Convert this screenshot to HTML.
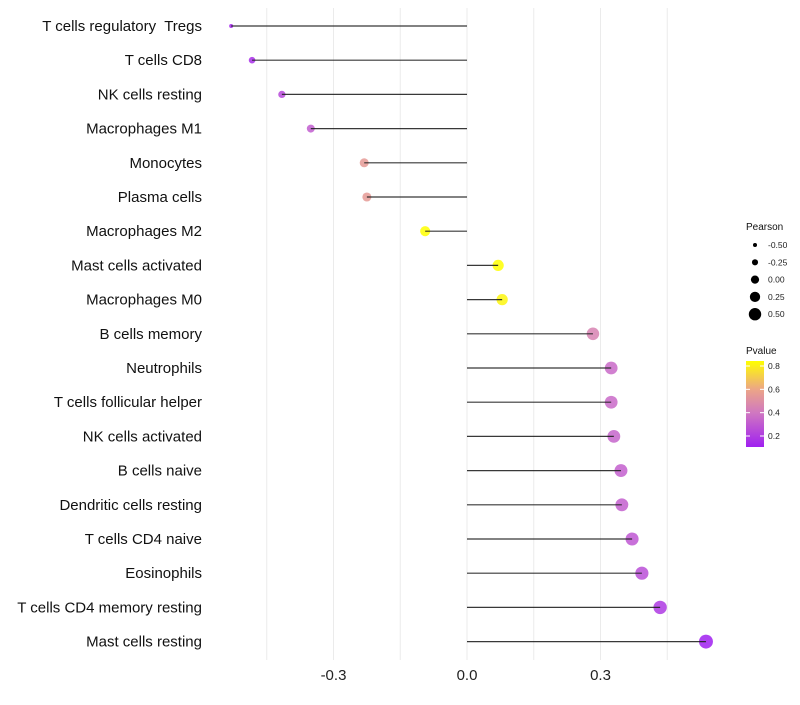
<!DOCTYPE html>
<html><head><meta charset="utf-8"><style>body{margin:0;background:#fff}svg{font-family:"Liberation Sans",sans-serif}</style></head>
<body>
<svg id="c" width="800" height="700"></svg>
<script>
const categories=["T cells regulatory  Tregs","T cells CD8","NK cells resting","Macrophages M1","Monocytes","Plasma cells","Macrophages M2","Mast cells activated","Macrophages M0","B cells memory","Neutrophils","T cells follicular helper","NK cells activated","B cells naive","Dendritic cells resting","T cells CD4 naive","Eosinophils","T cells CD4 memory resting","Mast cells resting"];
const pearson=[-0.530,-0.483,-0.416,-0.351,-0.231,-0.225,-0.094,0.070,0.079,0.283,0.324,0.324,0.330,0.346,0.348,0.371,0.393,0.434,0.537];
const pvalue=[0.15,0.18,0.28,0.35,0.6,0.6,0.85,0.85,0.83,0.5,0.4,0.4,0.38,0.36,0.36,0.33,0.3,0.22,0.13];
const xTicks=[-0.3,0,0.3];
const xTickLabels=["-0.3","0.0","0.3"];
const sizeLegend=[-0.5,-0.25,0,0.25,0.5];
const colorTicks=[0.8,0.6,0.4,0.2];
const NS="http://www.w3.org/2000/svg",svg=document.getElementById('c');
function el(t,a,p){const e=document.createElementNS(NS,t);for(const k in a)e.setAttribute(k,a[k]);(p||svg).appendChild(e);return e;}
const x=v=>467+v*445, y=i=>26+i*34.2;
const r=v=>v<-0.5?2:Math.sqrt(Math.max(4,11+(v+0.48)*37));
const legR=v=>2+(v+0.5)*4.2;
function col(p){const stops=[[0.13,[160,32,240]],[0.45,[208,120,192]],[0.65,[236,165,135]],[0.85,[255,255,0]]];
 p=Math.max(0.13,Math.min(0.85,p));for(let i=0;i<3;i++){const a=stops[i],b=stops[i+1];if(p<=b[0]){const t=(p-a[0])/(b[0]-a[0]);return 'rgb('+a[1].map((c,j)=>Math.round(c+(b[1][j]-c)*t)).join(',')+')';}}}
for(let v=-0.45;v<=0.46;v+=0.15){const g=el('line',{x1:x(v),x2:x(v),y1:8,y2:660,stroke:'#ebebeb','stroke-width':1});}
xTicks.forEach((v,i)=>{const t=el('text',{x:x(v),y:680,'text-anchor':'middle','font-size':15,fill:'#222'});t.textContent=xTickLabels[i];});
categories.forEach((c,i)=>{
 const t=el('text',{x:202,y:y(i)+5,'text-anchor':'end','font-size':15,fill:'#111'});t.style.whiteSpace='pre';t.textContent=c;
 const d=el('circle',{cx:x(pearson[i]),cy:y(i),r:r(pearson[i]),fill:col(pvalue[i]),'fill-opacity':0.85});
 const l=el('line',{x1:x(0),x2:x(pearson[i]),y1:y(i),y2:y(i),stroke:'#222','stroke-width':1.2,'stroke-opacity':0.9});
});
let t=el('text',{x:746,y:230,'font-size':10,fill:'#111'});t.textContent='Pearson';
sizeLegend.forEach((v,i)=>{const cy=245+i*17.3;const d=el('circle',{cx:755,cy:cy,r:legR(v),fill:'#000'});
 const s=el('text',{x:768,y:cy+3,'font-size':8.5,fill:'#222'});s.textContent=v.toFixed(2);});
t=el('text',{x:746,y:354,'font-size':10,fill:'#111'});t.textContent='Pvalue';
const defs=el('defs',{});const lg=el('linearGradient',{id:'g',x1:0,y1:0,x2:0,y2:1},defs);
[[0,0.85],[0.33,0.65],[0.6,0.45],[1,0.13]].forEach(s=>el('stop',{offset:s[0],'stop-color':col(s[1])},lg));
const cb=el('rect',{x:746,y:361,width:18,height:86,fill:'url(#g)'});
const cy=p=>366+(0.8-p)/0.6*70;
colorTicks.forEach(p=>{el('line',{x1:746,x2:750,y1:cy(p),y2:cy(p),stroke:'#fff'});el('line',{x1:760,x2:764,y1:cy(p),y2:cy(p),stroke:'#fff'});
 const s=el('text',{x:768,y:cy(p)+3,'font-size':8.5,fill:'#222'});s.textContent=p.toFixed(1);});
</script>
</body></html>
